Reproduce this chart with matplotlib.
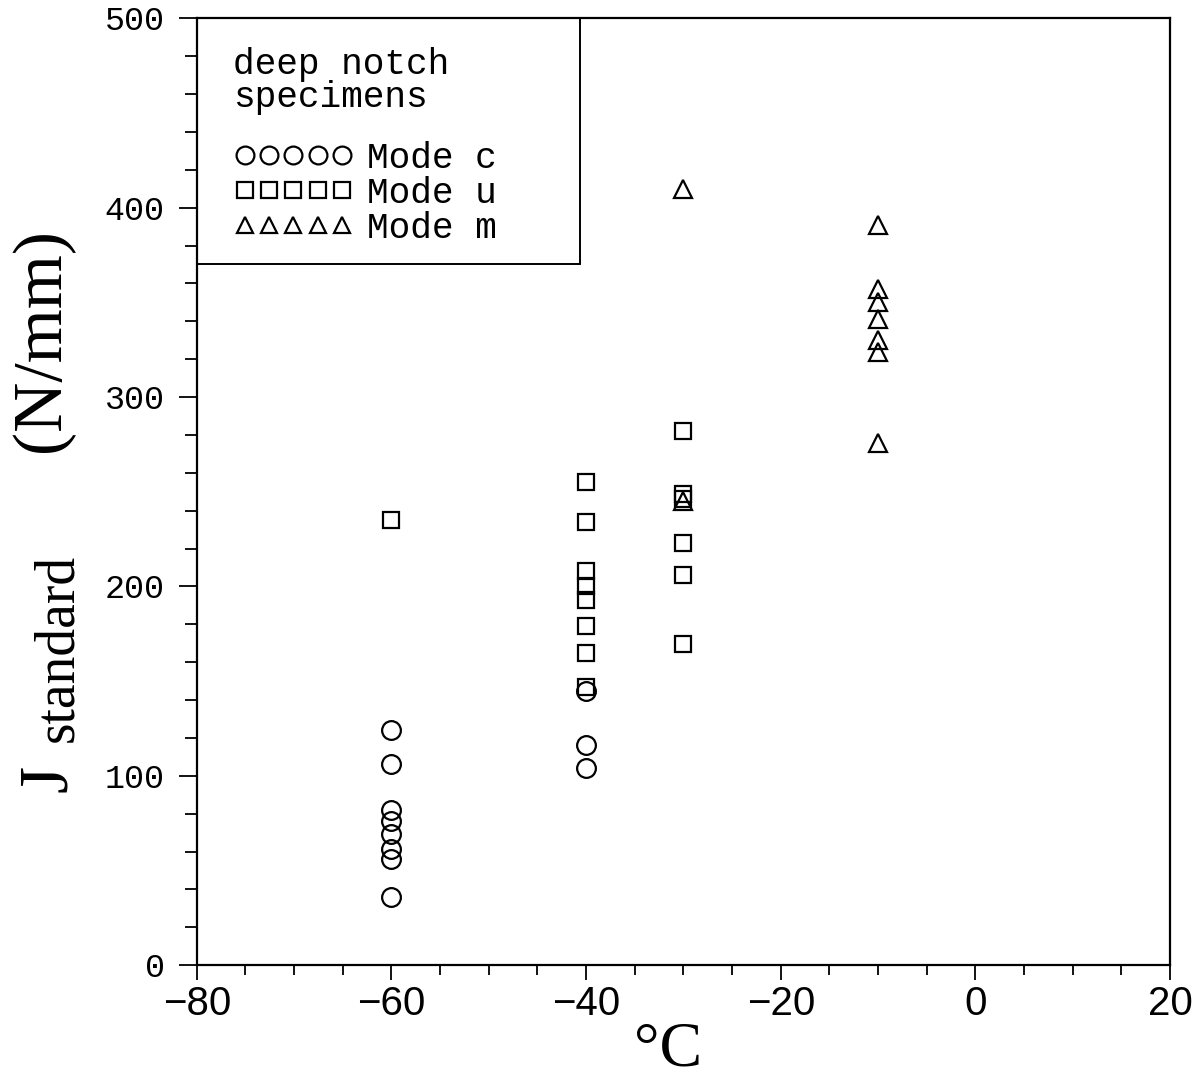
import numpy as np
import matplotlib
matplotlib.use("Agg")
import matplotlib.pyplot as plt
from matplotlib.patches import Rectangle
from matplotlib.ticker import MultipleLocator

# test temperatures (deg C) and J values (N/mm), one pair of lists per fracture mode
mode_c_temp = [-60, -60, -60, -60, -60, -60, -60, -60, -40, -40, -40]
mode_c_j = [124, 106, 82, 76, 69.5, 61.5, 56, 36, 145, 116, 104]

mode_u_temp = [-60, -40, -40, -40, -40, -40, -40, -40, -40, -30, -30, -30, -30, -30, -30]
mode_u_j = [235, 255, 234, 208, 200, 193, 179, 165, 147, 282, 249, 246, 223, 206, 169.5]

mode_m_temp = [-30, -30, -10, -10, -10, -10, -10, -10, -10]
mode_m_j = [410, 245, 391, 357, 350, 341, 330, 324, 276]

x_ticks = [-80, -60, -40, -20, 0, 20]
y_ticks = [0, 100, 200, 300, 400, 500]

W, H = 1200, 1082
fig = plt.figure(figsize=(W / 100, H / 100), dpi=100)
ax = fig.add_axes([0.164, 0.108, 0.811, 0.875])


def px(x, y):
    # pixel position -> figure fraction
    return x / W, 1 - y / H


mk = dict(linestyle='none', mfc='none', mec='black', mew=1.6)
ax.plot(mode_c_temp, mode_c_j, marker='o', ms=13.5, label='Mode c', **mk)
ax.plot(mode_u_temp, mode_u_j, marker='s', ms=11.5, label='Mode u', **mk)
ax.plot(mode_m_temp, mode_m_j, marker='^', ms=12.5, label='Mode m', **mk)

ax.set_xlim(-80, 20)
ax.set_ylim(0, 500)
ax.set_xticks(x_ticks)
ax.set_yticks(y_ticks)
ax.xaxis.set_minor_locator(MultipleLocator(5))
ax.yaxis.set_minor_locator(MultipleLocator(20))

for s in ax.spines.values():
    s.set_linewidth(1.6)
ax.tick_params(which='both', direction='out', width=1.3, top=False, right=False)
ax.tick_params(axis='x', which='major', length=11, pad=3)
ax.tick_params(axis='x', which='minor', length=7)
ax.tick_params(axis='y', which='major', length=13, pad=10)
ax.tick_params(axis='y', which='minor', length=9)

for lab in ax.get_xticklabels():
    lab.set_family('Liberation Sans')
    lab.set_fontsize(29)
for lab in ax.get_yticklabels():
    lab.set_family('Liberation Mono')
    lab.set_fontsize(24)

# y axis title, pieced together so the subscript can be sized on its own
lbl = dict(rotation=90, rotation_mode='anchor', ha='left', va='baseline',
           family='Liberation Serif')
fig.text(*px(59, 452), '(N/mm)', fontsize=50, **lbl)
fig.text(*px(66, 792), 'J', fontsize=50, **lbl)
fig.text(*px(72, 742), 'standard', fontsize=40, **lbl)

fig.text(*px(668, 1066), '°C', ha='center', va='baseline',
         family='Liberation Serif', fontsize=46)

# boxed key in the upper left corner
ax.add_patch(Rectangle((0, 0.741), 0.394, 0.259, transform=ax.transAxes,
                       fill=False, ec='black', lw=1.4, clip_on=False, zorder=3))
ax.text(0.037, 0.934, 'deep notch\nspecimens', transform=ax.transAxes,
        ha='left', va='center', family='Liberation Mono', fontsize=26, linespacing=0.95)
ax.legend(loc='upper left', bbox_to_anchor=(0.038, 0.871), frameon=False,
          numpoints=5, markerscale=0.95, handlelength=3.3, handletextpad=0.38,
          labelspacing=0.0, borderpad=0, borderaxespad=0,
          prop={'family': 'Liberation Mono', 'size': 26})

fig.savefig('out.png', dpi=100)
